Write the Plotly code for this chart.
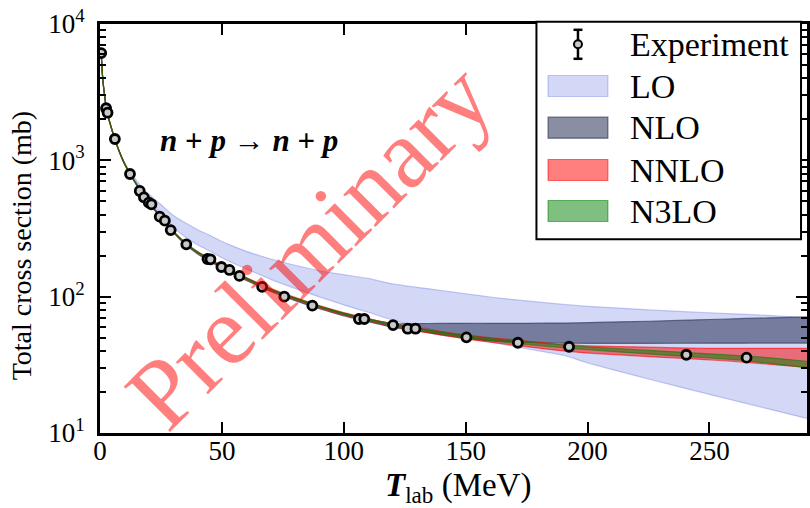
import plotly.graph_objects as go

# ---------------------------------------------------------------- data
# Measured n+p total cross sections: lab energy (MeV) and sigma (mb)
exp_T = [0.5, 2.5, 3.1, 6.1, 12.3, 16.3, 18.0, 20.0, 21.1, 24.5, 26.6, 29.0,
         35.4, 44.1, 45.3, 49.8, 53.1, 57.2, 66.5, 75.6, 87.1, 106.2, 108.4,
         120.2, 126.2, 129.4, 150.3, 171.4, 192.4, 240.5, 265.2]
exp_sigma = [6120, 2410, 2235, 1434, 794, 596, 535, 489, 476, 386, 361, 308,
             242, 189, 188, 165, 157, 142, 118, 100, 85.9, 68.6, 68.6,
             61.9, 58.2, 58.2, 50.3, 45.9, 42.9, 37.5, 35.7]

# Energy grid on which the EFT truncation bands are tabulated
band_T = [0.5, 1, 1.5, 2, 2.5, 3, 4, 5, 6, 8, 10, 12.5, 15, 17.5, 20, 25, 30,
          35, 40, 45, 50, 55, 60, 70, 80, 90, 100, 110, 120, 130, 140, 150,
          160, 175, 190, 200, 225, 250, 265, 275, 290]

lo_low = [6085, 4240, 3392, 2893, 2444, 2195, 1896, 1647, 1447, 1150, 955,
          793, 678, 577, 510, 408, 324, 274, 240, 216, 193, 175, 160, 134,
          115, 99.7, 87, 76.8, 67.6, 60.9, 55.3, 50.5, 46.6, 41.5, 37.2, 32.7,
          24.9, 19.2, 16.5, 14.9, 12.8]
lo_high = [6115, 4262, 3410, 2910, 2458, 2208, 1906, 1656, 1458, 1162, 969,
           816, 712, 622, 564, 474, 396, 348, 310, 282, 254, 233, 215, 189,
           170, 155, 145, 136, 124, 117, 111, 105, 99.4, 93.0, 87.7, 84.9,
           80.0, 76.2, 74.1, 72.7, 70.1]

nlo_low = [6070, 4230, 3385, 2885, 2438, 2189, 1890, 1641, 1442, 1143, 943,
           779, 659, 554, 484, 379, 296, 241, 206, 182, 160.5, 145, 131.5,
           109, 93.5, 81.5, 72.3, 65.6, 59.8, 56.0, 52.5, 49.5, 47.5, 46.3,
           45.6, 45.5, 45.5, 45.6, 45.6, 45.7, 45.7]
nlo_high = [6110, 4255, 3405, 2905, 2454, 2204, 1903, 1653, 1453, 1152, 952,
            787, 667, 562, 492, 387, 303, 248, 213, 189, 167, 151, 137,
            113.5, 97.5, 85, 75.5, 68.6, 63.5, 63.5, 63.6, 63.8, 63.8, 63.8,
            64.0, 64.5, 66.0, 68.0, 69.2, 70.0, 71.0]

nnlo_low = [6060, 4225, 3380, 2883, 2436, 2187, 1889, 1640, 1441, 1143, 944,
            780, 661, 556, 487, 382, 298, 245, 210, 186, 164, 148, 134, 111,
            95.3, 82.8, 73.3, 66.3, 60.3, 56.2, 52.3, 49.0, 46.3, 43.0, 40.0,
            38.6, 36.3, 34.4, 33.0, 31.8, 30.3]
nnlo_high = [6140, 4275, 3420, 2917, 2464, 2213, 1911, 1660, 1459, 1157, 956,
             790, 669, 564, 493, 388, 302, 249, 214, 190, 168, 152, 138, 115,
             98.7, 86.0, 76.4, 69.2, 63.2, 59.2, 55.5, 52.4, 50.0, 47.3, 44.6,
             43.6, 42.6, 41.8, 41.8, 41.8, 41.8]

n3lo_low = [6076, 4233, 3386, 2888, 2440, 2191, 1892, 1643, 1444, 1145, 946,
            782, 662, 558, 488, 383.5, 298.8, 245.8, 210.9, 187, 165, 149,
            135, 112.1, 96.1, 83.65, 74.2, 67.2, 61.2, 57.2, 53.4, 50.2, 47.6,
            44.7, 42.2, 40.8, 38.0, 35.5, 33.9, 32.4, 30.2]
n3lo_high = [6124, 4267, 3414, 2912, 2460, 2209, 1908, 1657, 1456, 1155, 954,
             788, 668, 562, 492, 386.5, 301.2, 248.2, 213.1, 189, 167, 151,
             137, 113.9, 97.9, 85.35, 75.8, 68.8, 62.8, 58.8, 55.0, 51.8, 49.4,
             46.5, 44.2, 42.8, 40.4, 38.1, 36.7, 35.6, 33.6]

x_ticks = [0, 50, 100, 150, 200, 250]
y_ticks = [10, 100, 1000, 10000]
y_ticktext = ["10<sup>1</sup>", "10<sup>2</sup>", "10<sup>3</sup>", "10<sup>4</sup>"]

legend_labels = ["Experiment", "LO", "NLO", "NNLO", "N3LO"]

# ---------------------------------------------------------------- styles
FONT = "Liberation Serif"
W, H = 810, 508
ML, MR, MT, MB = 100, 0, 24, 75

band_styles = {
    "LO": dict(fill="rgba(110,125,225,0.30)", line="rgba(110,125,225,0.40)"),
    "NLO": dict(fill="rgba(40,50,85,0.55)", line="rgba(40,50,85,0.65)"),
    "NNLO": dict(fill="rgba(255,0,0,0.50)", line="rgba(255,0,0,0.55)"),
    "N3LO": dict(fill="rgba(0,128,0,0.50)", line="rgba(0,128,0,0.55)"),
}
bands = [("LO", lo_low, lo_high), ("NLO", nlo_low, nlo_high),
         ("NNLO", nnlo_low, nnlo_high), ("N3LO", n3lo_low, n3lo_high)]

fig = go.Figure()

for name, low, high in bands:
    st = band_styles[name]
    fig.add_trace(go.Scatter(x=band_T, y=low, mode="lines",
                             line=dict(color=st["line"], width=1.2, shape="spline", smoothing=0.6),
                             showlegend=False, hoverinfo="skip"))
    fig.add_trace(go.Scatter(x=band_T, y=high, mode="lines", fill="tonexty",
                             fillcolor=st["fill"],
                             line=dict(color=st["line"], width=1.2, shape="spline", smoothing=0.6),
                             showlegend=False, name=name))

fig.add_trace(go.Scatter(x=exp_T, y=exp_sigma, mode="markers", name="Experiment",
                         marker=dict(symbol="circle", size=9, color="#c8c8c8",
                                     line=dict(color="black", width=2.8)),
                         showlegend=False))


# pixel -> paper helpers for the hand-built legend and labels
def fx(px):
    return (px - ML) / (W - ML - MR)


def fy(py):
    return (H - MB - py) / (H - MT - MB)


shapes = []
annotations = []

# legend frame
shapes.append(dict(type="rect", xref="paper", yref="paper", layer="above",
                   x0=fx(538.3), x1=fx(804), y0=fy(239.3), y1=fy(21.7),
                   fillcolor="white", line=dict(color="black", width=2)))

row_y = [44.3, 86, 127.7, 170, 211]

# errorbar symbol for the measurements
ex, ey = 580, row_y[0]
shapes.append(dict(type="line", xref="paper", yref="paper", layer="above",
                   x0=fx(ex), x1=fx(ex), y0=fy(ey - 14.5), y1=fy(ey + 14.5),
                   line=dict(color="black", width=2.5)))
for cy in (ey - 14.5, ey + 14.5):
    shapes.append(dict(type="line", xref="paper", yref="paper", layer="above",
                       x0=fx(ex - 4.5), x1=fx(ex + 4.5), y0=fy(cy), y1=fy(cy),
                       line=dict(color="black", width=2.5)))
shapes.append(dict(type="circle", xref="paper", yref="paper", layer="above",
                   x0=fx(ex - 4), x1=fx(ex + 4), y0=fy(ey + 4), y1=fy(ey - 4),
                   fillcolor="#c8c8c8", line=dict(color="black", width=2)))

# band swatches
for (name, _, _), yc in zip(bands, row_y[1:]):
    st = band_styles[name]
    shapes.append(dict(type="rect", xref="paper", yref="paper", layer="above",
                       x0=fx(550), x1=fx(610), y0=fy(yc + 10.5), y1=fy(yc - 10.5),
                       fillcolor=st["fill"], line=dict(color=st["line"], width=1.2)))

for label, yc in zip(legend_labels, row_y):
    annotations.append(dict(text=label, xref="paper", yref="paper",
                            x=fx(630), y=fy(yc), xanchor="left", yanchor="middle",
                            showarrow=False, font=dict(family=FONT, size=34, color="black")))

# reaction label
annotations.append(dict(text="<b><i>n</i> + <i>p</i> → <i>n</i> + <i>p</i></b>",
                        xref="paper", yref="paper", x=fx(250), y=fy(140),
                        xanchor="center", yanchor="middle", showarrow=False,
                        font=dict(family=FONT, size=31, color="black")))

# watermark
annotations.append(dict(text="Preliminary", xref="paper", yref="paper",
                        x=fx(310), y=fy(245), xanchor="center", yanchor="middle",
                        textangle=-45, showarrow=False,
                        font=dict(family=FONT, size=99, color="rgba(255,0,0,0.5)")))

# axis titles
annotations.append(dict(text="<b><i>T</i></b><sub>lab</sub> (MeV)", xref="paper", yref="paper",
                        x=fx(460), y=fy(487), xanchor="center", yanchor="middle",
                        showarrow=False, font=dict(family=FONT, size=33, color="black")))
annotations.append(dict(text="Total cross section (mb)", xref="paper", yref="paper",
                        x=fx(22), y=fy(246), xanchor="center", yanchor="middle",
                        textangle=-90, showarrow=False,
                        font=dict(family=FONT, size=28, color="black")))

minor_vals = [m * 10 ** k for k in (1, 2, 3) for m in range(2, 10)]

fig.update_layout(
    width=W, height=H,
    margin=dict(l=ML, r=MR, t=MT, b=MB, pad=0),
    paper_bgcolor="white", plot_bgcolor="white",
    showlegend=False,
    shapes=shapes, annotations=annotations,
    font=dict(family=FONT, size=27, color="black"),
    xaxis=dict(range=[0, 290], tickmode="array", tickvals=x_ticks,
               ticks="inside", ticklen=11, tickwidth=2, tickcolor="black",
               showline=True, linewidth=3, linecolor="black", mirror="ticks",
               showgrid=False, zeroline=False, ticklabelstandoff=-8,
               tickfont=dict(family=FONT, size=27, color="black")),
    yaxis=dict(type="log", range=[1, 4], tickmode="array", tickvals=y_ticks,
               ticktext=y_ticktext,
               ticks="inside", ticklen=11, tickwidth=2, tickcolor="black",
               showline=True, linewidth=3, linecolor="black", mirror="ticks",
               showgrid=False, zeroline=False, ticklabelstandoff=7,
               minor=dict(tickmode="array", tickvals=minor_vals, ticks="inside",
                          ticklen=6, tickwidth=1.5, tickcolor="black", showgrid=False),
               tickfont=dict(family=FONT, size=27, color="black")),
)

fig.write_html("out.html")
